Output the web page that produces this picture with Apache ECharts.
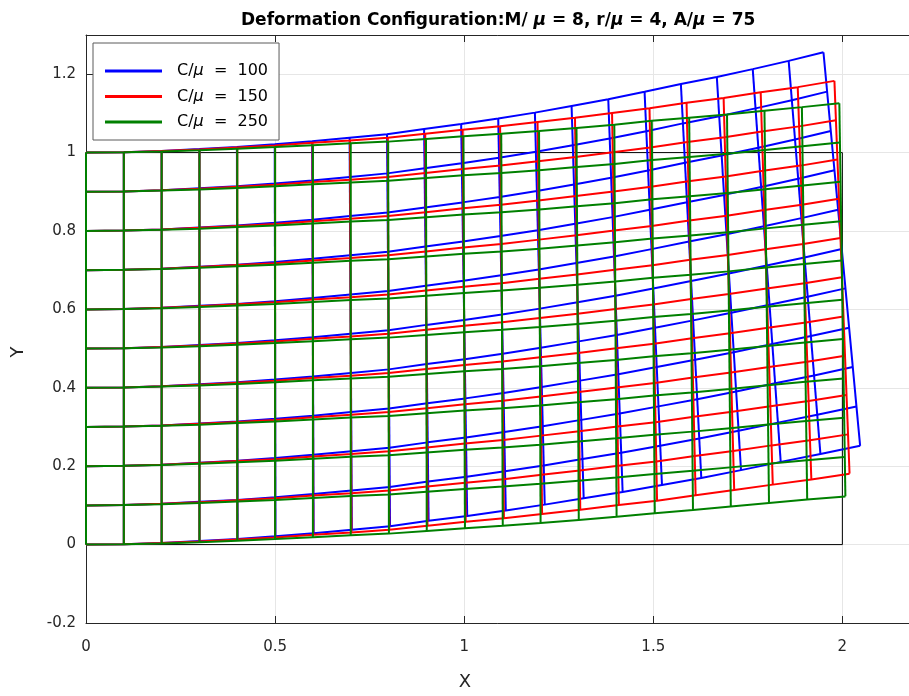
<!DOCTYPE html>
<html>
<head>
<meta charset="utf-8">
<script src="https://cdn.jsdelivr.net/npm/echarts@6/dist/echarts.min.js"></script>
<style>
html,body{margin:0;padding:0;background:#fff;}
#deformChart{width:909px;height:696px;}
</style>
</head>
<body>
<div id="deformChart"></div>
<script>
// node heights along each (straight) vertical grid line, undeformed y of the 11 rows
var rowFrac = [0, 0.1, 0.2, 0.3, 0.4, 0.5, 0.6, 0.7, 0.8, 0.9, 1];
// undeformed column positions x = 0 ... 2
var colX = [0, 0.1, 0.2, 0.3, 0.4, 0.5, 0.6, 0.7, 0.8, 0.9, 1, 1.1, 1.2, 1.3, 1.4, 1.5, 1.6, 1.7, 1.8, 1.9, 2];

// C/mu = 100 (blue): bottom and top end of every deformed column
var c100BotX = [0, 0.1, 0.2, 0.3, 0.401, 0.501, 0.602, 0.703, 0.804, 0.906, 1.008, 1.110, 1.213, 1.316, 1.419, 1.523, 1.627, 1.732, 1.837, 1.942, 2.047];
var c100BotY = [0, 0.001, 0.004, 0.009, 0.014, 0.021, 0.029, 0.038, 0.047, 0.061, 0.073, 0.087, 0.102, 0.118, 0.134, 0.152, 0.170, 0.190, 0.211, 0.231, 0.252];
var c100TopX = [0, 0.1, 0.2, 0.3, 0.399, 0.499, 0.598, 0.697, 0.796, 0.894, 0.992, 1.090, 1.187, 1.284, 1.381, 1.477, 1.573, 1.668, 1.763, 1.858, 1.950];
var c100TopY = [1, 1.001, 1.004, 1.009, 1.014, 1.021, 1.029, 1.038, 1.047, 1.060, 1.073, 1.087, 1.102, 1.119, 1.136, 1.155, 1.175, 1.193, 1.213, 1.234, 1.256];

// C/mu = 150 (red)
var c150BotX = [0, 0.1, 0.2, 0.3, 0.4, 0.5, 0.601, 0.702, 0.802, 0.903, 1.004, 1.105, 1.206, 1.307, 1.409, 1.510, 1.612, 1.714, 1.816, 1.918, 2.019];
var c150BotY = [0, 0.001, 0.004, 0.008, 0.013, 0.018, 0.025, 0.031, 0.038, 0.048, 0.058, 0.067, 0.078, 0.089, 0.101, 0.112, 0.126, 0.139, 0.153, 0.166, 0.181];
var c150TopX = [0, 0.1, 0.2, 0.3, 0.4, 0.5, 0.599, 0.698, 0.798, 0.897, 0.996, 1.095, 1.194, 1.293, 1.391, 1.490, 1.588, 1.686, 1.784, 1.882, 1.979];
var c150TopY = [1, 1.001, 1.004, 1.008, 1.013, 1.018, 1.025, 1.031, 1.038, 1.048, 1.058, 1.067, 1.078, 1.089, 1.101, 1.113, 1.127, 1.139, 1.154, 1.167, 1.183];

// C/mu = 250 (green)
var c250BotX = [0, 0.1, 0.2, 0.3, 0.4, 0.5, 0.6, 0.7, 0.801, 0.901, 1.002, 1.102, 1.202, 1.303, 1.403, 1.504, 1.605, 1.705, 1.806, 1.907, 2.008];
var c250BotY = [0, 0.001, 0.003, 0.006, 0.010, 0.014, 0.019, 0.024, 0.028, 0.035, 0.042, 0.048, 0.055, 0.063, 0.071, 0.080, 0.088, 0.097, 0.106, 0.115, 0.123];
var c250TopX = [0, 0.1, 0.2, 0.3, 0.4, 0.5, 0.6, 0.7, 0.799, 0.899, 0.998, 1.098, 1.198, 1.297, 1.397, 1.496, 1.595, 1.695, 1.794, 1.893, 1.992];
var c250TopY = [1, 1.001, 1.003, 1.006, 1.010, 1.014, 1.019, 1.024, 1.028, 1.035, 1.042, 1.048, 1.055, 1.063, 1.071, 1.081, 1.089, 1.097, 1.107, 1.116, 1.126];

// undeformed block outline
var refBox = [[0, 0], [2, 0], [2, 1], [0, 1], [0, 0]];

var axisColor = '#262626';
var fontName = 'DejaVu Sans';

function lineSeries(name, color, pts) {
	return {
		name: name,
		type: 'line',
		data: pts,
		symbol: 'none',
		silent: true,
		animation: false,
		color: color,
		lineStyle: {color: color, width: 2},
		z: 3
	};
}

// one series per grid line: 11 rows + 21 columns
function meshSeries(name, color, botX, botY, topX, topY) {
	var list = [];
	for (var k = 0; k < rowFrac.length; k++) {
		var pts = [];
		for (var i = 0; i < colX.length; i++) {
			pts.push([
				botX[i] + (topX[i] - botX[i]) * rowFrac[k],
				botY[i] + (topY[i] - botY[i]) * rowFrac[k]
			]);
		}
		list.push(lineSeries(name, color, pts));
	}
	for (var i = 0; i < colX.length; i++) {
		list.push(lineSeries(name, color, [[botX[i], botY[i]], [topX[i], topY[i]]]));
	}
	return list;
}

var series = [{
	type: 'line',
	data: refBox,
	symbol: 'none',
	silent: true,
	animation: false,
	lineStyle: {color: '#000', width: 1},
	z: 2
}];
series = series
	.concat(meshSeries('C/μ = 100', '#0000ff', c100BotX, c100BotY, c100TopX, c100TopY))
	.concat(meshSeries('C/μ = 150', '#ff0000', c150BotX, c150BotY, c150TopX, c150TopY))
	.concat(meshSeries('C/μ = 250', '#008000', c250BotX, c250BotY, c250TopX, c250TopY));

var deformChart = echarts.init(document.getElementById('deformChart'));
var optionDeform = {
	backgroundColor: '#fff',
	animation: false,
	title: {
		text: 'Deformation Configuration:M/ {m|μ} = 8, r/{m|μ} = 4, A/{m|μ} = 75',
		left: 236,
		top: 7,
		textStyle: {
			fontFamily: fontName,
			fontWeight: 'bold',
			fontSize: 17,
			color: '#000',
			rich: {
				m: {fontFamily: fontName, fontWeight: 'bold', fontStyle: 'italic', fontSize: 17, color: '#000'}
			}
		}
	},
	legend: {
		data: ['C/μ = 100', 'C/μ = 150', 'C/μ = 250'],
		orient: 'vertical',
		left: 93,
		top: 43,
		icon: 'rect',
		itemWidth: 57,
		itemHeight: 3,
		itemGap: 7.5,
		padding: [19, 11, 9, 12],
		backgroundColor: '#fff',
		borderColor: '#5a5a5a',
		borderWidth: 1,
		borderRadius: 0,
		formatter: function (name) {
			return name.replace('μ', '{m|μ}').replace(' = ', '  =  ');
		},
		textStyle: {
			fontFamily: fontName,
			fontSize: 16,
			lineHeight: 18,
			color: '#000',
			padding: [0, 0, 0, 10],
			rich: {
				m: {fontFamily: fontName, fontStyle: 'italic', fontSize: 16, color: '#000'}
			}
		},
		z: 10
	},
	grid: {
		left: 86,
		width: 832,
		top: 35,
		bottom: 73,
		containLabel: false,
		outerBoundsMode: 'none'
	},
	xAxis: [{
		type: 'value',
		min: 0,
		max: 2.2,
		interval: 0.5,
		name: 'X',
		nameLocation: 'middle',
		nameGap: 50,
		nameTextStyle: {fontFamily: fontName, fontSize: 18, color: axisColor, padding: [0, 74, 0, 0]},
		axisLine: {show: true, onZero: false, lineStyle: {color: axisColor, width: 1}},
		axisTick: {show: true, inside: true, length: 7, lineStyle: {color: axisColor}},
		axisLabel: {
			fontFamily: fontName, fontSize: 15, color: axisColor, margin: 17,
			showMaxLabel: false
		},
		splitLine: {show: true, lineStyle: {color: '#e6e6e6', width: 1}}
	}, {
		type: 'value',
		position: 'top',
		min: 0,
		max: 2.2,
		interval: 0.5,
		axisLine: {show: true, onZero: false, lineStyle: {color: axisColor, width: 1}},
		axisTick: {show: true, inside: true, length: 7, lineStyle: {color: axisColor}},
		axisLabel: {show: false},
		splitLine: {show: false}
	}],
	yAxis: [{
		type: 'value',
		min: -0.2,
		max: 1.3,
		interval: 0.2,
		name: 'Y',
		nameLocation: 'middle',
		nameGap: 59,
		nameTextStyle: {fontFamily: fontName, fontSize: 18, color: axisColor, padding: [0, 46, 0, 0]},
		axisLine: {show: true, onZero: false, lineStyle: {color: axisColor, width: 1}},
		axisTick: {show: true, inside: true, length: 7, lineStyle: {color: axisColor}},
		axisLabel: {
			fontFamily: fontName, fontSize: 15, color: axisColor, margin: 10,
			showMaxLabel: false
		},
		splitLine: {show: true, lineStyle: {color: '#e6e6e6', width: 1}}
	}],
	series: series
};
deformChart.setOption(optionDeform);
</script>
</body>
</html>
